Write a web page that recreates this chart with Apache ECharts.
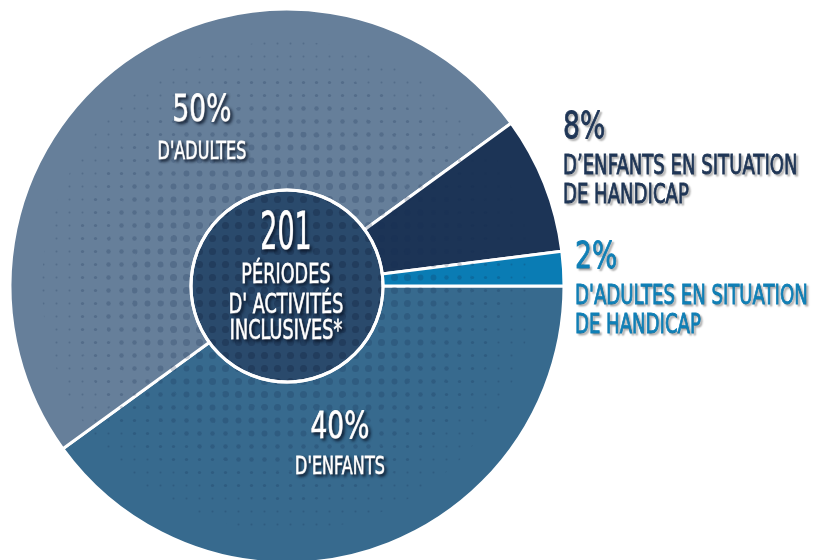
<!DOCTYPE html>
<html>
<head>
<meta charset="utf-8">
<script src="https://cdn.jsdelivr.net/npm/echarts@6/dist/echarts.min.js"></script>
<style>
  html, body { margin: 0; padding: 0; background: #fff; }
  #chart { width: 815px; height: 560px; }
</style>
</head>
<body>
<div id="chart"></div>
<script>
// parts, clockwise from 3 o'clock
const categories = ["D'ENFANTS", "D'ADULTES", "D’ENFANTS EN SITUATION\nDE HANDICAP", "D'ADULTES EN SITUATION\nDE HANDICAP"];
const shares = [40, 50, 8, 2];
const sliceColors = ['#376a8e', '#667f9a', '#1c3456', '#0a7cb4'];
const totalPeriods = 201;
const centerLines = ['PÉRIODES', "D' ACTIVITÉS", 'INCLUSIVES*'];

const FONT = '"DejaVu Sans", sans-serif';
const CENTER = [287, 286];
const R = 277;
const INNER = 96;

// label blocks: anchor x, cap-middle y of each line, sizes
const labelSpots = [
  { x: 340, ys: [428, 468], align: 'center', big: 37, small: 24 },
  { x: 202, ys: [111, 153], align: 'center', big: 37, small: 24 },
  { x: 563, ys: [128, 167, 196], align: 'left', big: 37, small: 27 },
  { x: 575, ys: [258, 297, 326], align: 'left', big: 37, small: 27 }
];
const labelColors = ['#ffffff', '#ffffff', '#1e3556', '#0f7fb6'];

function textEl(str, x, y, size, sx, color, align, dark) {
  return {
    type: 'text',
    x: x,
    y: y,
    scaleX: sx,
    silent: true,
    z: 10,
    style: {
      text: str,
      font: size + 'px ' + FONT,
      fill: color,
      stroke: color,
      lineWidth: 0.9,
      align: align,
      textAlign: align,
      verticalAlign: 'middle',
      textVerticalAlign: 'middle',
      textShadowColor: dark ? 'rgba(8,18,35,0.8)' : 'rgba(0,0,0,0.28)',
      textShadowBlur: dark ? 3 : 2,
      textShadowOffsetX: 2,
      textShadowOffsetY: 2
    }
  };
}

let labels = [];
categories.forEach(function (name, i) {
  let s = labelSpots[i];
  let lines = [shares[i] + '%'].concat(name.split('\n'));
  lines.forEach(function (l, k) {
    labels.push(textEl(l, s.x, s.ys[k], k === 0 ? s.big : s.small, k === 0 ? 0.72 : 0.67,
      labelColors[i], s.align, i < 2));
  });
});
// centre block
labels.push(textEl(String(totalPeriods), 286, 236, 51, 0.53, '#fff', 'center', true));
[276, 306, 332].forEach(function (y, k) {
  labels.push(textEl(centerLines[k], 286, y, 26, 0.68, '#fff', 'center', true));
});

let pieData = categories.map(function (name, i) {
  return { name: name, value: shares[i], itemStyle: { color: sliceColors[i] } };
});

// halftone rings (dots shrink outward)
let dotRings = [[INNER, 125, 0.78], [125, 155, 0.65], [155, 185, 0.5], [185, 215, 0.36], [215, 245, 0.22]];
let ringSeries = dotRings.map(function (rg) {
  return {
    type: 'pie',
    silent: true,
    z: 2,
    center: CENTER,
    radius: [rg[0], rg[1]],
    label: { show: false },
    labelLine: { show: false },
    data: [{
      value: 1,
      itemStyle: {
        color: 'rgba(0,0,0,0)',
        decal: {
          symbol: 'circle',
          symbolSize: rg[2],
          color: 'rgba(25,45,80,0.22)',
          dashArrayX: [9, 4],
          dashArrayY: [9, 4]
        }
      }
    }]
  };
});

let chart = echarts.init(document.getElementById('chart'));
chart.setOption({
  animation: false,
  graphic: { elements: labels },
  series: [
    {
      type: 'pie',
      z: 1,
      silent: true,
      center: CENTER,
      radius: [0, R],
      startAngle: 0,
      clockwise: true,
      label: { show: false },
      labelLine: { show: false },
      itemStyle: { borderColor: '#ffffff', borderWidth: 3 },
      data: pieData
    }
  ].concat(ringSeries, [
    {
      type: 'pie',
      z: 3,
      silent: true,
      center: CENTER,
      radius: [0, INNER],
      itemStyle: {
        color: '#2a4a6c',
        borderColor: '#ffffff',
        borderWidth: 3,
        decal: {
          symbol: 'circle',
          symbolSize: 0.78,
          color: 'rgba(20,38,65,0.35)',
          dashArrayX: [9, 4],
          dashArrayY: [9, 4]
        }
      },
      label: { show: false },
      labelLine: { show: false },
      data: [{ name: 'total', value: totalPeriods }]
    }
  ])
});
</script>
</body>
</html>
